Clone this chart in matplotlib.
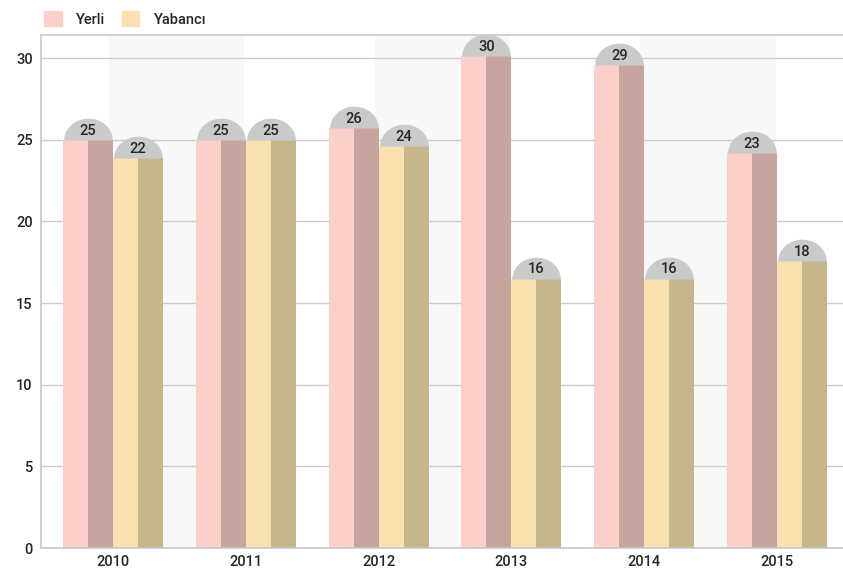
import numpy as np
import matplotlib
matplotlib.use("Agg")
import matplotlib.pyplot as plt
from matplotlib.path import Path
from matplotlib.patches import Patch

plt.rcParams['font.family'] = ['Roboto', 'DejaVu Sans']

# data
years = ['2010', '2011', '2012', '2013', '2014', '2015']
yerli = [25.0, 25.0, 25.7, 30.1, 29.6, 24.2]          # bar heights
yabanci = [23.9, 25.0, 24.6, 16.5, 16.5, 17.6]
yerli_lbl = ['25', '25', '26', '30', '29', '23']       # printed labels
yabanci_lbl = ['22', '25', '24', '16', '16', '18']
yticks = [0, 5, 10, 15, 20, 25, 30]

# colours
pink, pink_dk = '#fdcfca', '#c8a49f'
yel, yel_dk = '#f8e1ae', '#c6b68b'
cap_col = '#cacaca'
txt = '#262626'

fig = plt.figure(figsize=(8.43, 5.72), dpi=100)
ax = fig.add_axes([41/843, 24/572, 802/843, 513/572])

x = np.arange(len(years))
w = 0.3765  # one bar width in category units

# alternating background bands
for i in range(0, len(years), 2):
    ax.axvspan(i - 0.03, i + 0.99, color='#f7f9f9', zorder=0, lw=0)

# bars, each split in a light and a shaded half
ax.bar(x - 0.75*w, yerli, w/2, color=pink, zorder=2, lw=0)
ax.bar(x - 0.25*w, yerli, w/2, color=pink_dk, zorder=2, lw=0)
ax.bar(x + 0.25*w, yabanci, w/2, color=yel, zorder=2, lw=0)
ax.bar(x + 0.75*w, yabanci, w/2, color=yel_dk, zorder=2, lw=0)

# half-circle caps with labels
t = np.linspace(0, np.pi, 40)
half = Path(np.column_stack([np.cos(t), 0.9*np.sin(t)]).tolist() + [[1, 0]])
for xs, hs, labels in [(x - w/2, yerli, yerli_lbl), (x + w/2, yabanci, yabanci_lbl)]:
    ax.plot(xs, hs, ls='none', marker=half, markersize=35, color=cap_col,
            markeredgewidth=0, zorder=3, clip_on=False)
    for xi, hi, lb in zip(xs, hs, labels):
        ax.annotate(lb, (xi, hi), xytext=(0, 6.5), textcoords='offset points',
                    ha='center', va='center', fontsize=10.5, color=txt,
                    fontweight='medium', zorder=4)

ax.set_xlim(-0.542, 5.497)
ax.set_ylim(0, 31.41)
ax.set_yticks(yticks)
ax.set_xticks(x)
ax.set_xticklabels(years)
ax.yaxis.grid(True, color='#cccccc', lw=1)
ax.set_axisbelow(True)
ax.tick_params(length=0, labelsize=10.5, labelcolor=txt, pad=6)
for lab in ax.get_xticklabels() + ax.get_yticklabels():
    lab.set_fontweight('medium')
ax.tick_params(axis='x', pad=5)
for s in ['left', 'bottom', 'top']:
    ax.spines[s].set_color('#c8c8c8')
    ax.spines[s].set_linewidth(1.2)
ax.spines['right'].set_visible(False)

handles = [Patch(color=pink, label='Yerli'), Patch(color=yel, label='Yabancı')]
fig.legend(handles=handles, loc='upper left', bbox_to_anchor=(0.037, 1.003),
           ncol=2, frameon=False, handlelength=1.2,
           handleheight=1.2, columnspacing=1.1, handletextpad=1.0,
           labelcolor=txt, prop={'weight': 'medium', 'size': 10.5})

fig.savefig('out.png', dpi=100)
